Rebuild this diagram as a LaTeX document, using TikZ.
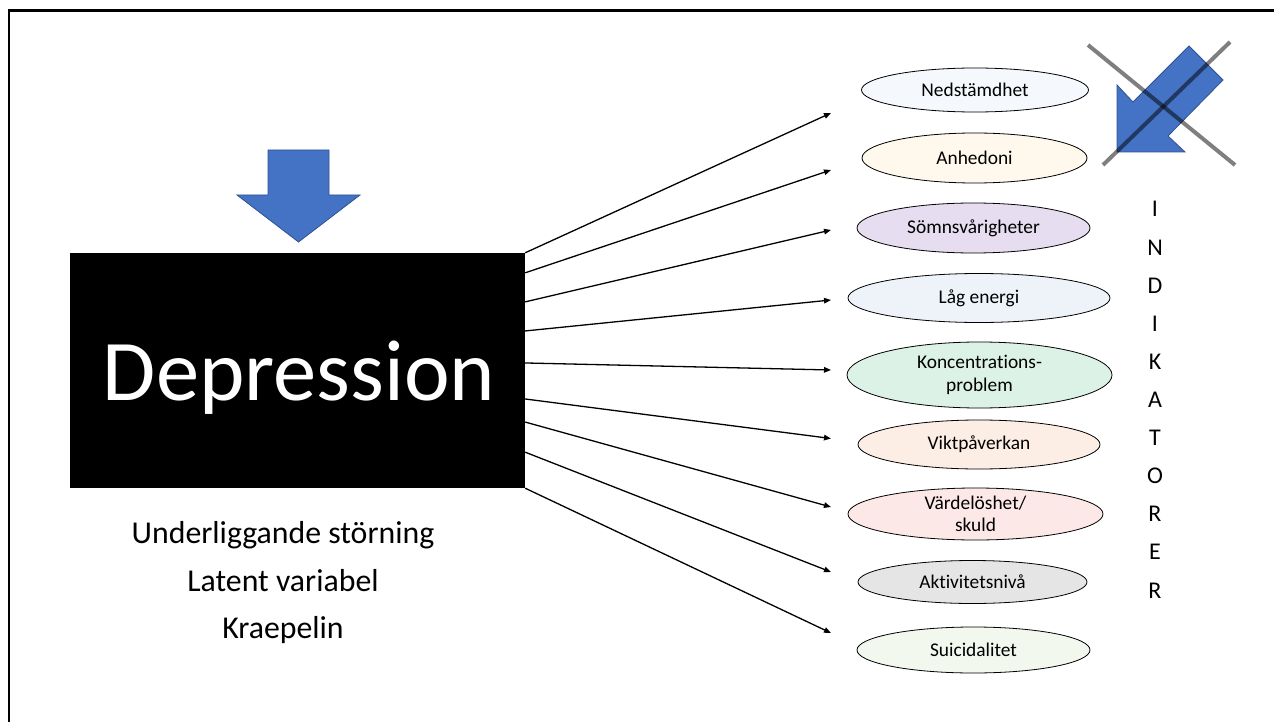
\documentclass[tikz,border=0pt]{standalone}
\usepackage{fontspec}
\setmainfont{Carlito}[Ligatures={NoCommon}]
\usetikzlibrary{arrows.meta,shapes.geometric,calc}
\definecolor{arrowblue}{HTML}{4472C4}
\definecolor{arrowedge}{HTML}{2F528F}
\definecolor{cA}{HTML}{F5F8FC}
\definecolor{cB}{HTML}{FFF8EC}
\definecolor{cC}{HTML}{E6DEF0}
\definecolor{cD}{HTML}{EEF2F9}
\definecolor{cE}{HTML}{DDF2E6}
\definecolor{cF}{HTML}{FCEEE4}
\definecolor{cG}{HTML}{FDE8E8}
\definecolor{cH}{HTML}{E5E5E5}
\definecolor{cI}{HTML}{F3F8EE}
\tikzset{
  indbox/.style={ellipse, draw=black, line width=0.8pt, inner sep=0pt, align=center,
    font=\fontsize{19.4}{22.5}\selectfont},
  link/.style={line width=1.3pt, -{Triangle[length=7pt,width=5.5pt]}},
  bluearrow/.style={fill=arrowblue, draw=arrowedge, line width=0.8pt},
  crossline/.style={draw=black, draw opacity=0.5, line width=4pt},
  letter/.style={anchor=base, inner sep=0pt, font=\fontsize{24}{28}\selectfont},
  sublabel/.style={anchor=base, inner sep=0pt, font=\fontsize{31.8}{36}\selectfont}
}
\begin{document}
\begin{tikzpicture}[x=1pt,y=-1pt]
\useasboundingbox (0,0) rectangle (1274,722);
% frame
\draw[line width=2.5pt, line join=miter] (9,722) -- (9,10.5) -- (1274,10.5);
% down arrow
\path[bluearrow] (268,150) -- (329,150) -- (329,195) -- (360,195) -- (298.5,242) -- (237,195) -- (268,195) -- cycle;
% black box
\node[fill=black, minimum width=455pt, minimum height=235pt, inner sep=0pt] (dep) at (297.5,370.5) {};
\node[anchor=base, text=white, inner sep=0pt, font=\fontsize{86.5}{100}\selectfont] (deplabel) at (299,400) {Depression};
% labels below
\node[sublabel] (u1) at (283,543) {Underliggande störning};
\node[sublabel] (u2) at (283,591) {Latent variabel};
\node[sublabel] (u3) at (283,638) {Kraepelin};
% indicator ellipses
\node[indbox, fill=cA, minimum width=227pt, minimum height=44pt] (e1) at (975,90) {Nedstämdhet};
\node[indbox, fill=cB, minimum width=225pt, minimum height=50pt] (e2) at (974.5,158) {Anhedoni};
\node[indbox, fill=cC, minimum width=233pt, minimum height=50pt] (e3) at (973.5,228) {Sömnsvårigheter};
\node[indbox, fill=cD, minimum width=262pt, minimum height=49pt] (e4) at (979,298) {Låg energi};
\node[indbox, fill=cE, minimum width=265pt, minimum height=66pt] (e5) at (979.5,375) {Koncentrations-\\problem};
\node[indbox, fill=cF, minimum width=242pt, minimum height=49pt] (e6) at (979,444.5) {Viktpåverkan};
\node[indbox, fill=cG, minimum width=255pt, minimum height=52pt] (e7) at (975.5,514) {Värdelöshet/\\skuld};
\node[indbox, fill=cH, minimum width=229pt, minimum height=43pt] (e8) at (972.5,582) {Aktivitetsnivå};
\node[indbox, fill=cI, minimum width=233pt, minimum height=46pt] (e9) at (973.5,650) {Suicidalitet};
% arrow targets
\coordinate (t1) at (831,113);
\coordinate (t2) at (831,170);
\coordinate (t3) at (831,230);
\coordinate (t4) at (831,300);
\coordinate (t5) at (831,370);
\coordinate (t6) at (831,438.5);
\coordinate (t7) at (831,507);
\coordinate (t8) at (831,572);
\coordinate (t9) at (831,633);
% connectors
\draw[link] (dep.north east) -- (t1);
\draw[link] ($(dep.north east)!0.085!(dep.south east)$) -- (t2);
\draw[link] ($(dep.north east)!0.2085!(dep.south east)$) -- (t3);
\draw[link] ($(dep.north east)!0.332!(dep.south east)$) -- (t4);
\draw[link] ($(dep.north east)!0.468!(dep.south east)$) -- (t5);
\draw[link] ($(dep.north east)!0.621!(dep.south east)$) -- (t6);
\draw[link] ($(dep.north east)!0.719!(dep.south east)$) -- (t7);
\draw[link] ($(dep.north east)!0.847!(dep.south east)$) -- (t8);
\draw[link] (dep.south east) -- (t9);
% crossed diagonal arrow
\path[bluearrow] (1117,152) -- (1117,85) -- (1133,102) -- (1189,46) -- (1223,80) -- (1168,136) -- (1185,152) -- cycle;
\draw[crossline] (1088,45) -- (1235,165);
\draw[crossline] (1230,42) -- (1103,165);
% INDIKATORER
\foreach \ch [count=\i from 0] in {I,N,D,I,K,A,T,O,R,E,R} {
  \node[letter] (ind\i) at (1155,{217+38.1*\i}) {\ch};
}
\end{tikzpicture}
\end{document}
